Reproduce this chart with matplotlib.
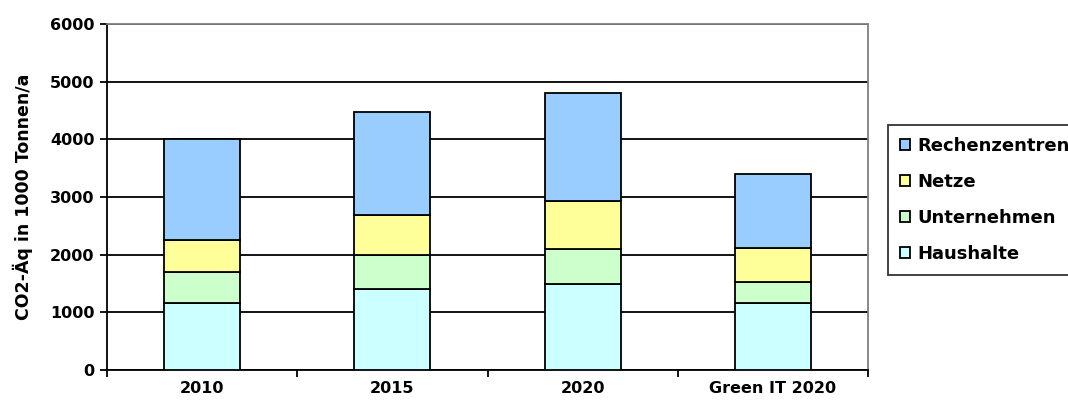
import matplotlib
matplotlib.use("Agg")
import matplotlib.pyplot as plt
import numpy as np

categories = ["2010", "2015", "2020", "Green IT 2020"]
haushalte = [1160, 1400, 1490, 1160]
unternehmen = [540, 600, 600, 370]
netze = [550, 680, 840, 590]
rechenzentren = [1750, 1790, 1870, 1280]
series_names = ["Haushalte", "Unternehmen", "Netze", "Rechenzentren"]
colors = ["#CCFFFF", "#CCFFCC", "#FFFF99", "#99CCFF"]
y_label = "CO2-Äq in 1000 Tonnen/a"
y_ticks = [0, 1000, 2000, 3000, 4000, 5000, 6000]

plt.rcParams['font.family'] = ['DejaVu Sans']
plt.rcParams['font.weight'] = 'bold'

fig = plt.figure(figsize=(10.68, 4.08), dpi=100)
ax = fig.add_axes([107/1068, 38/408, (868-107)/1068, (370-24)/408])

x = np.arange(len(categories))
bottom = np.zeros(len(categories))
handles = []
for name, vals, c in zip(series_names, [haushalte, unternehmen, netze, rechenzentren], colors):
    b = ax.bar(x, vals, 0.4, bottom=bottom, color=c, edgecolor="black", linewidth=1.3, label=name, zorder=3)
    handles.append(b)
    bottom += np.array(vals)

ax.set_xlim(-0.5, 3.5)
ax.set_ylim(0, 6000)
ax.set_yticks(y_ticks)
ax.set_yticklabels([str(v) for v in y_ticks], fontsize=11.5, fontweight='bold')
ax.yaxis.grid(True, color="black", linewidth=1.3, zorder=0)
ax.set_axisbelow(True)

ax.set_xticks(np.arange(-0.5, 4.0, 1.0))
ax.set_xticklabels([])
ax.set_xticks(x, minor=True)
ax.set_xticklabels(categories, minor=True, fontsize=11.5, fontweight='bold')
ax.tick_params(axis='x', which='minor', length=0, pad=8)
ax.tick_params(axis='x', which='major', length=5, width=1.3, direction='out')
ax.tick_params(axis='y', length=5, width=1.3, direction='out', pad=4)

for s in ["left", "bottom"]:
    ax.spines[s].set_color("black")
    ax.spines[s].set_linewidth(1.3)
for s in ["top", "right"]:
    ax.spines[s].set_color("#808080")
    ax.spines[s].set_linewidth(1.3)

ax.set_ylabel(y_label, fontsize=12.5, fontweight='bold', labelpad=12)

leg = fig.legend(handles[::-1], series_names[::-1], loc="upper left",
                 bbox_to_anchor=(888/1068, 1 - 125/408), frameon=True, fancybox=False,
                 handlelength=0.55, handleheight=0.55, handletextpad=0.45,
                 labelspacing=1.0, borderpad=0.65, borderaxespad=0,
                 prop={'size': 13, 'weight': 'bold'})
leg.get_frame().set_edgecolor("black")
leg.get_frame().set_linewidth(1.3)

fig.savefig("out.png", dpi=100)
